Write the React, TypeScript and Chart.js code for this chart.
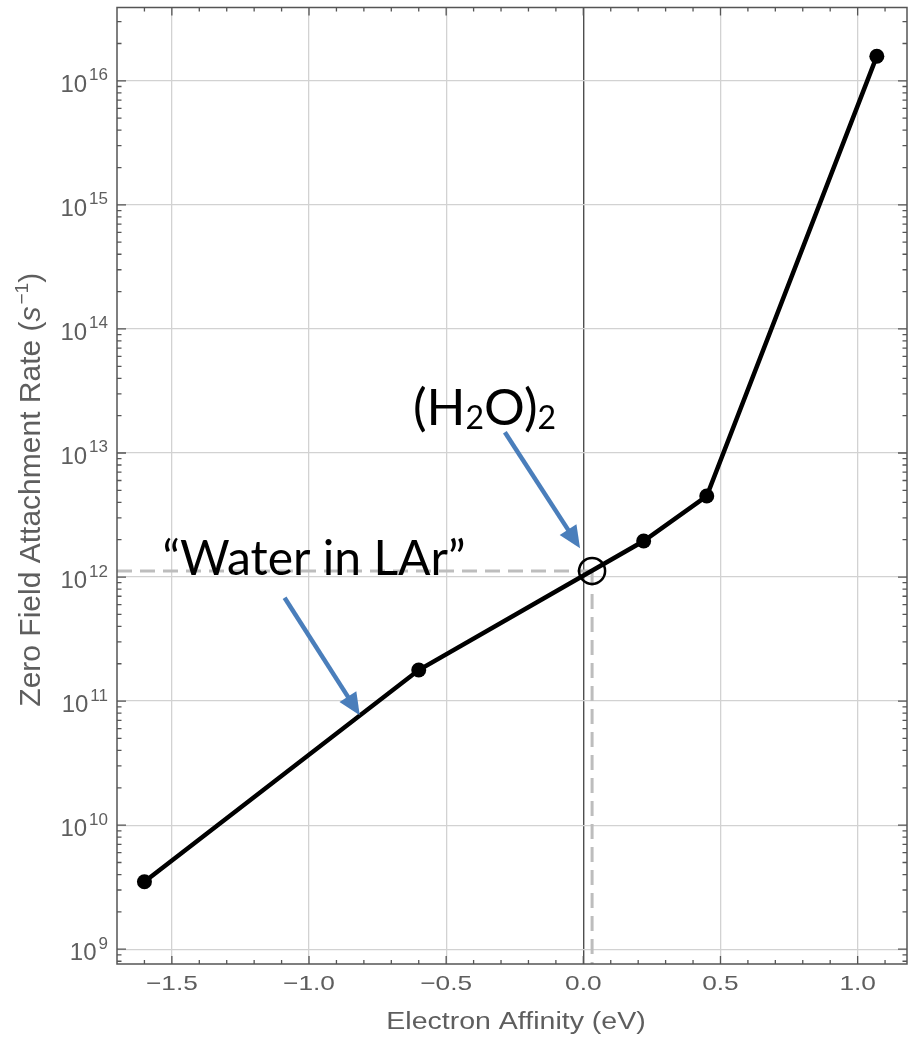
import { useEffect, useRef } from 'react';
import { Chart, registerables } from 'chart.js';

Chart.register(...registerables);

// Electron affinity (eV) vs. zero-field attachment rate (s^-1)
const AFFINITY_EV = [-1.6, -0.6, 0.22, 0.45, 1.07];
const ATTACH_RATE = [3.5e9, 1.78e11, 1.95e12, 4.5e12, 1.58e16];

// (H2O)2 / "water in LAr" working point on the curve
const WATER_POINT = { x: 0.032, y: 1.12e12 };

const X_RANGE = [-1.7, 1.18];
const Y_RANGE = [7.6e8, 3.9e16];

const X_TICKS = [-1.5, -1.0, -0.5, 0.0, 0.5, 1.0];
const X_TICK_LABELS = ['\u22121.5', '\u22121.0', '\u22120.5', '0.0', '0.5', '1.0'];
const Y_DECADES = [9, 10, 11, 12, 13, 14, 15, 16];

// Callout anchors, in data coordinates
const H2O_LABEL_AT = { x: -0.621, y: 1.68e13 };
const WATER_LABEL_AT = { x: -1.534, y: 1.04e12 };
const ARROWS = [
  { from: { x: -0.286, y: 1.47e13 }, to: { x: -0.012, y: 1.71e12 } },
  { from: { x: -1.089, y: 6.8e11 }, to: { x: -0.815, y: 7.7e10 } },
];

const LABEL_GRAY = '#5e5e5e';
const FRAME_GRAY = '#555555';
const GRID_GRAY = '#d2d2d2';
const ARROW_BLUE = '#4a7ebb';
const SANS = '"Liberation Sans", Arial, sans-serif';
const CALLOUT = 'Lato, "Open Sans", sans-serif';

function stretchedText(ctx: CanvasRenderingContext2D, text: string, x: number, y: number, sx: number) {
  ctx.save();
  ctx.translate(x, y);
  ctx.scale(sx, 1);
  ctx.fillText(text, 0, 0);
  ctx.restore();
}

function drawArrow(ctx: CanvasRenderingContext2D, x1: number, y1: number, x2: number, y2: number) {
  const ang = Math.atan2(y2 - y1, x2 - x1);
  const head = 22;
  const half = 10;
  const bx = x2 - head * Math.cos(ang);
  const by = y2 - head * Math.sin(ang);
  ctx.save();
  ctx.strokeStyle = ARROW_BLUE;
  ctx.fillStyle = ARROW_BLUE;
  ctx.lineWidth = 4.5;
  ctx.beginPath();
  ctx.moveTo(x1, y1);
  ctx.lineTo(bx + 2 * Math.cos(ang), by + 2 * Math.sin(ang));
  ctx.stroke();
  ctx.beginPath();
  ctx.moveTo(x2, y2);
  ctx.lineTo(bx - half * Math.sin(ang), by + half * Math.cos(ang));
  ctx.lineTo(bx + half * Math.sin(ang), by - half * Math.cos(ang));
  ctx.closePath();
  ctx.fill();
  ctx.restore();
}

const framePlugin = {
  id: 'mathematicaFrame',
  afterDraw(chart: any) {
    const { ctx, chartArea: a, scales } = chart;
    const xs = scales.x;
    const ys = scales.y;
    ctx.save();

    // frame box
    ctx.strokeStyle = FRAME_GRAY;
    ctx.lineWidth = 1.5;
    ctx.strokeRect(a.left, a.top, a.right - a.left, a.bottom - a.top);

    // inward tick marks on all four sides
    ctx.lineWidth = 1.3;
    ctx.beginPath();
    for (let i = -17; i <= 11; i++) {
      const v = i / 10;
      const major = i % 5 === 0;
      const len = major ? 8 : 4;
      const px = xs.getPixelForValue(v);
      if (px <= a.left + 1 || px >= a.right - 1) continue;
      ctx.moveTo(px, a.bottom);
      ctx.lineTo(px, a.bottom - len);
      ctx.moveTo(px, a.top);
      ctx.lineTo(px, a.top + len);
    }
    for (let d = 8; d <= 16; d++) {
      for (let m = 1; m <= 9; m++) {
        const v = m * Math.pow(10, d);
        if (v < Y_RANGE[0] || v > Y_RANGE[1]) continue;
        const py = ys.getPixelForValue(v);
        const len = m === 1 ? 9 : 4.5;
        ctx.moveTo(a.left, py);
        ctx.lineTo(a.left + len, py);
        ctx.moveTo(a.right, py);
        ctx.lineTo(a.right - len, py);
      }
    }
    ctx.stroke();

    // x tick labels
    ctx.fillStyle = LABEL_GRAY;
    ctx.textAlign = 'center';
    ctx.textBaseline = 'alphabetic';
    ctx.font = `21px ${SANS}`;
    X_TICKS.forEach((v, i) => {
      stretchedText(ctx, X_TICK_LABELS[i], xs.getPixelForValue(v), a.bottom + 26, 1.25);
    });

    // y tick labels: 10^n
    ctx.textAlign = 'right';
    Y_DECADES.forEach((d) => {
      const py = ys.getPixelForValue(Math.pow(10, d));
      const rightX = a.left - 9;
      ctx.font = `17px ${SANS}`;
      const exp = String(d);
      const w = ctx.measureText(exp).width;
      ctx.fillText(exp, rightX, py - 0.5);
      ctx.font = `24px ${SANS}`;
      ctx.fillText('10', rightX - w - 2, py + 11);
    });

    // x axis title
    ctx.textAlign = 'center';
    ctx.font = `23px ${SANS}`;
    stretchedText(ctx, 'Electron Affinity (eV)', (a.left + a.right) / 2 + 4, a.bottom + 65, 1.24);

    // y axis title with italic s and superscript -1
    ctx.save();
    ctx.translate(40, (a.top + a.bottom) / 2 + 4);
    ctx.rotate(-Math.PI / 2);
    ctx.textAlign = 'left';
    const parts = [
      { t: 'Zero Field Attachment Rate (', f: `30px ${SANS}`, dy: 0 },
      { t: 's', f: `italic 30px ${SANS}`, dy: 0 },
      { t: '\u22121', f: `19px ${SANS}`, dy: -12 },
      { t: ')', f: `30px ${SANS}`, dy: 0 },
    ];
    let total = 0;
    parts.forEach((p) => {
      ctx.font = p.f;
      total += ctx.measureText(p.t).width + (p.t === 's' ? 2 : 0);
    });
    let cx = -total / 2;
    parts.forEach((p) => {
      ctx.font = p.f;
      ctx.fillText(p.t, cx, p.dy);
      cx += ctx.measureText(p.t).width + (p.t === 's' ? 2 : 0);
    });
    ctx.restore();

    // callout arrows
    ARROWS.forEach((ar) => {
      drawArrow(
        ctx,
        xs.getPixelForValue(ar.from.x), ys.getPixelForValue(ar.from.y),
        xs.getPixelForValue(ar.to.x), ys.getPixelForValue(ar.to.y),
      );
    });

    // callout texts
    ctx.fillStyle = '#000000';
    ctx.textAlign = 'left';
    let hx = xs.getPixelForValue(H2O_LABEL_AT.x);
    const hy = ys.getPixelForValue(H2O_LABEL_AT.y);
    const formula = [
      { t: '(H', sub: false },
      { t: '2', sub: true },
      { t: 'O)', sub: false },
      { t: '2', sub: true },
    ];
    formula.forEach((p) => {
      ctx.font = p.sub ? `32px ${CALLOUT}` : `51px ${CALLOUT}`;
      ctx.fillText(p.t, hx, hy + (p.sub ? 4 : 0));
      hx += ctx.measureText(p.t).width;
    });
    ctx.font = `48px ${CALLOUT}`;
    ctx.fillText('\u201CWater in LAr\u201D', xs.getPixelForValue(WATER_LABEL_AT.x), ys.getPixelForValue(WATER_LABEL_AT.y));

    ctx.restore();
  },
};

export default function App() {
  const canvasRef = useRef<HTMLCanvasElement | null>(null);

  useEffect(() => {
    if (!canvasRef.current) return;
    const curve = AFFINITY_EV.map((x, i) => ({ x, y: ATTACH_RATE[i] }));
    const chart = new Chart(canvasRef.current, {
      type: 'scatter',
      data: {
        datasets: [
          {
            data: curve,
            showLine: true,
            borderColor: '#000000',
            borderWidth: 4.5,
            pointRadius: 7.5,
            pointBackgroundColor: '#000000',
            pointBorderWidth: 0,
          },
          {
            data: [WATER_POINT],
            showLine: false,
            pointRadius: 13,
            pointBorderWidth: 2.5,
            pointBorderColor: '#000000',
            pointBackgroundColor: 'rgba(0,0,0,0)',
          },
          {
            data: [{ x: X_RANGE[0], y: WATER_POINT.y }, WATER_POINT],
            showLine: true,
            borderColor: '#bdbdbd',
            borderWidth: 3,
            borderDash: [15, 8],
            pointRadius: 0,
          },
          {
            data: [WATER_POINT, { x: WATER_POINT.x, y: Y_RANGE[0] }],
            showLine: true,
            borderColor: '#bdbdbd',
            borderWidth: 3,
            borderDash: [15, 8],
            pointRadius: 0,
          },
        ],
      },
      options: {
        animation: false,
        responsive: false,
        devicePixelRatio: 1,
        events: [],
        layout: { autoPadding: false, padding: { left: 117, top: 7.5, right: 1, bottom: 73 } },
        plugins: { legend: { display: false }, tooltip: { enabled: false } },
        scales: {
          x: {
            type: 'linear',
            min: X_RANGE[0],
            max: X_RANGE[1],
            afterBuildTicks: (s: any) => {
              s.ticks = X_TICKS.map((v) => ({ value: v }));
            },
            ticks: { display: false },
            border: { display: false },
            grid: {
              drawTicks: false,
              color: (c: any) => (c.tick && c.tick.value === 0 ? '#4f4f4f' : GRID_GRAY),
              lineWidth: (c: any) => (c.tick && c.tick.value === 0 ? 1.4 : 1.3),
            },
          },
          y: {
            type: 'logarithmic',
            min: Y_RANGE[0],
            max: Y_RANGE[1],
            afterBuildTicks: (s: any) => {
              s.ticks = Y_DECADES.map((d) => ({ value: Math.pow(10, d) }));
            },
            ticks: { display: false },
            border: { display: false },
            grid: { drawTicks: false, color: GRID_GRAY, lineWidth: 1.3 },
          },
        },
      },
      plugins: [framePlugin],
    } as any);
    return () => chart.destroy();
  }, []);

  return (
    <div style={{ position: 'fixed', left: 0, top: 0, width: 908, height: 1037, background: '#ffffff' }}>
      <canvas ref={canvasRef} width={908} height={1037} style={{ display: 'block' }} />
    </div>
  );
}
